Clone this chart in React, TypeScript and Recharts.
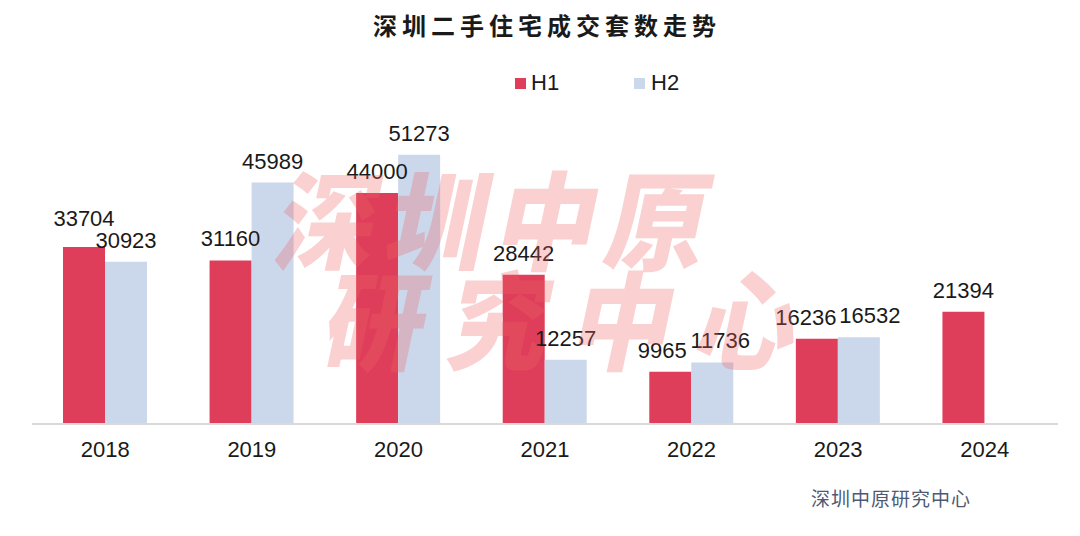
import { Bar, BarChart, LabelList, XAxis, YAxis } from "recharts";

// 深圳二手住宅成交套数（套）
const YEARS = ["2018", "2019", "2020", "2021", "2022", "2023", "2024"];
const H1_VALUES = [33704, 31160, 44000, 28442, 9965, 16236, 21394];
const H2_VALUES: (number | null)[] = [30923, 45989, 51273, 12257, 11736, 16532, null];

const H1_COLOR = "#DF3E5A";
const H2_COLOR = "#CBD8EC";
const FONT = "'Liberation Sans', Arial, sans-serif";
const CJK = "'Noto Sans CJK SC', 'Noto Sans', sans-serif";

const LABEL_H = 22; // label box height, used to keep the H1/H2 labels apart
const DIGIT_W = 12.2;

const data = YEARS.map((year, i) => ({ year, H1: H1_VALUES[i], H2: H2_VALUES[i] }));

// value label above each bar, nudged when it would hit its neighbour
function makeLabel(key: "H1" | "H2") {
  return (props: any) => {
    const vb = props.viewBox || {};
    const x = Number(props.x ?? vb.x);
    const y = Number(props.y ?? vb.y);
    const width = Number(props.width ?? vb.width);
    const height = Number(props.height ?? vb.height);
    const { value, index } = props;
    if (value == null || !height) return null;

    const ratio = height / value;
    const base = y + height;
    const other = key === "H1" ? H2_VALUES[index] : H1_VALUES[index];
    let dx = 0;
    let lift = 0;
    if (other != null) {
      const otherTop = base - other * ratio;
      const diff = otherTop - y; // > 0 when this bar is the taller one
      if (Math.abs(diff) < LABEL_H) {
        if (Math.abs(diff) >= 12) {
          if (diff > 0) lift = LABEL_H - diff;
        } else {
          const need = (String(value).length * DIGIT_W + String(other).length * DIGIT_W) / 2 + 3 - width;
          if (need > 0) dx = ((key === "H1" ? -1 : 1) * need) / 2;
        }
      }
    }
    return (
      <text
        x={x + width / 2 + dx}
        y={y - 14 - lift}
        textAnchor="middle"
        fill="#1a1a1a"
        fontSize={22}
        fontFamily={FONT}
      >
        {value}
      </text>
    );
  };
}

const watermark = {
  position: "absolute" as const,
  fontFamily: CJK,
  fontWeight: 900,
  fontSize: 100,
  lineHeight: "100px",
  color: "rgba(240, 100, 100, 0.3)",
  transform: "skewX(-12deg) scaleY(1.07)",
  transformOrigin: "left top",
  pointerEvents: "none" as const,
  whiteSpace: "nowrap" as const,
};

export default function App() {
  return (
    <div
      style={{
        position: "absolute",
        left: 0,
        top: 0,
        width: 1080,
        height: 536,
        background: "#fff",
        overflow: "hidden",
      }}
    >
      {/* Title */}
      <div
        style={{
          position: "absolute",
          top: 10,
          left: 0,
          width: 1080,
          textAlign: "center",
          fontFamily: CJK,
          fontWeight: 700,
          fontSize: 24,
          letterSpacing: 5,
          color: "#1a1a1a",
          lineHeight: "30px",
          paddingLeft: 14,
          boxSizing: "border-box",
        }}
      >
        深圳二手住宅成交套数走势
      </div>

      {/* Legend */}
      <div
        style={{
          position: "absolute",
          top: 70,
          left: 515,
          display: "flex",
          alignItems: "center",
          fontFamily: FONT,
          fontSize: 22,
          color: "#1a1a1a",
          lineHeight: "26px",
        }}
      >
        <span style={{ width: 11, height: 11, background: H1_COLOR, marginRight: 5 }} />
        <span style={{ width: 103 }}>H1</span>
        <span style={{ width: 11, height: 11, background: H2_COLOR, marginRight: 6 }} />
        <span>H2</span>
      </div>

      <BarChart
        width={1080}
        height={536}
        data={data}
        margin={{ top: 109, right: 22, bottom: 72, left: 32 }}
        barSize={42}
        barGap={0}
      >
        <XAxis
          dataKey="year"
          height={40}
          axisLine={{ stroke: "#D9D9D9", strokeWidth: 2 }}
          tickLine={false}
          tickSize={6}
          tickMargin={11}
          tick={{ fill: "#1a1a1a", fontSize: 22, fontFamily: FONT }}
        />
        <YAxis hide domain={[0, 60000]} />
        <Bar dataKey="H1" fill={H1_COLOR} isAnimationActive={false}>
          <LabelList dataKey="H1" content={makeLabel("H1")} />
        </Bar>
        <Bar dataKey="H2" fill={H2_COLOR} isAnimationActive={false}>
          <LabelList dataKey="H2" content={makeLabel("H2")} />
        </Bar>
      </BarChart>

      {/* Watermark */}
      <div style={{ ...watermark, left: 292, top: 162, letterSpacing: 10 }}>深圳中原</div>
      <div style={{ ...watermark, left: 340, top: 262, letterSpacing: 24 }}>研究中心</div>

      {/* Source */}
      <div
        style={{
          position: "absolute",
          left: 811,
          top: 486,
          fontFamily: CJK,
          fontSize: 19,
          letterSpacing: 1,
          lineHeight: "24px",
          color: "#4E5A73",
        }}
      >
        深圳中原研究中心
      </div>
    </div>
  );
}
